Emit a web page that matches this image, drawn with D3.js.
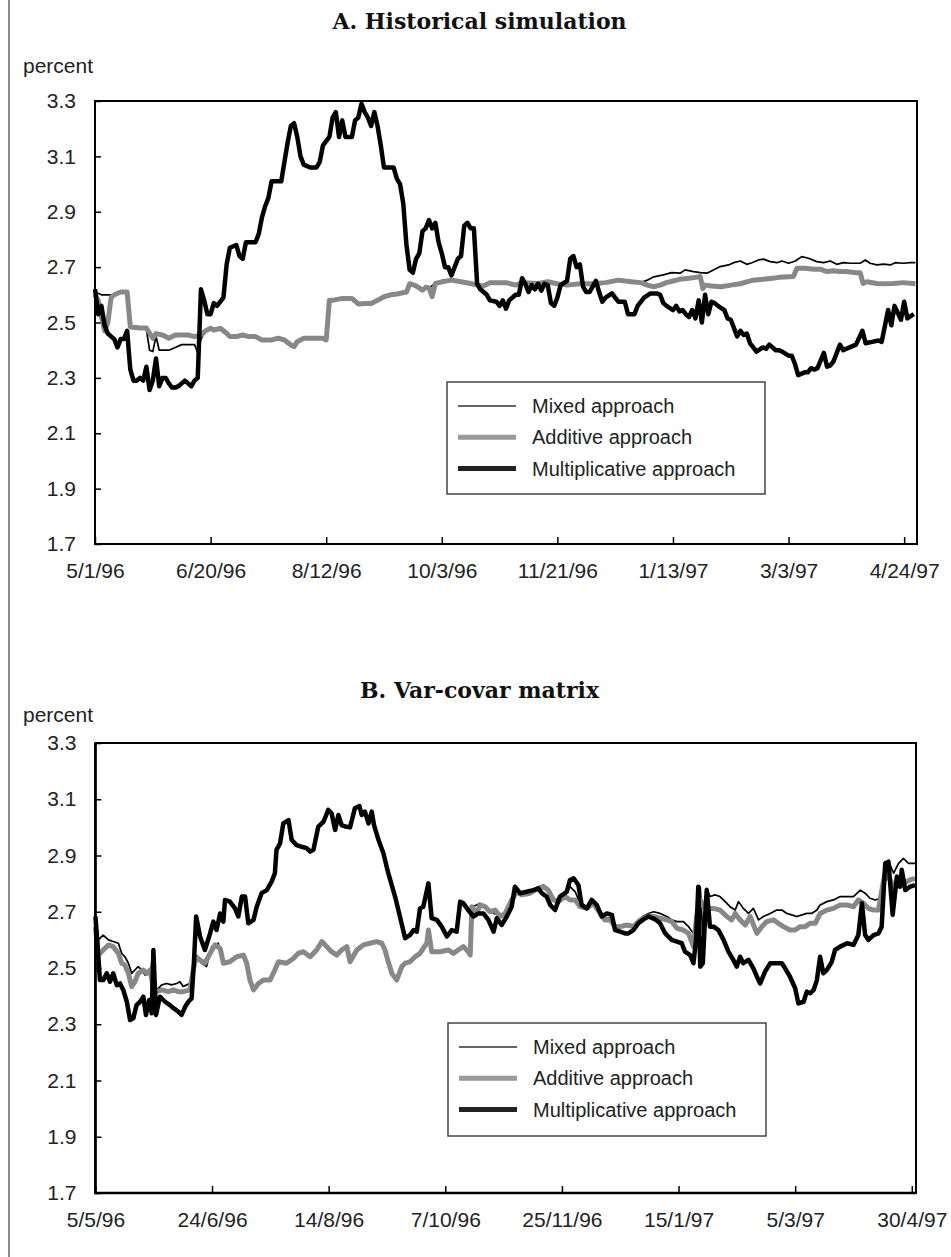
<!DOCTYPE html>
<html>
<head>
<meta charset="utf-8">
<script src="https://cdn.jsdelivr.net/npm/d3@7"></script>
<style>
  body { margin: 0; background: #fff; }
  svg { display: block; }
</style>
</head>
<body>
<script>
// values: [trading day, percent]
const yTicks = [1.7, 1.9, 2.1, 2.3, 2.5, 2.7, 2.9, 3.1, 3.3];
const tickDays = [0, 36, 72, 108, 144, 180, 216, 252];
const labelsA = ["5/1/96", "6/20/96", "8/12/96", "10/3/96", "11/21/96", "1/13/97", "3/3/97", "4/24/97"];
const labelsB = ["5/5/96", "24/6/96", "14/8/96", "7/10/96", "25/11/96", "15/1/97", "5/3/97", "30/4/97"];
const seriesNames = ["Mixed approach", "Additive approach", "Multiplicative approach"];

const multA = [[0,2.62],[1,2.53],[2,2.56],[3,2.49],[4,2.46],[5,2.45],[6,2.44],[7,2.41],[8,2.44],[9,2.44],[10,2.47],[11,2.33],[12,2.29],[13,2.29],[14,2.30],[15,2.29],[16,2.34],[17,2.256],[18,2.29],[19,2.37],[20,2.27],[21,2.30],[22,2.30],[23,2.28],[24,2.265],[25,2.265],[26,2.27],[27,2.28],[28,2.29],[29,2.28],[30,2.27],[31,2.29],[32,2.30],[33,2.62],[34,2.58],[35,2.53],[36,2.53],[37,2.57],[38,2.56],[40,2.59],[41,2.71],[42,2.77],[44,2.78],[45,2.74],[46,2.73],[47,2.79],[48,2.79],[50,2.79],[51,2.82],[52,2.88],[53,2.92],[54,2.95],[55,3.01],[58,3.01],[59,3.08],[60,3.15],[61,3.21],[62,3.22],[63,3.17],[64,3.10],[65,3.07],[67,3.06],[69,3.06],[70,3.08],[71,3.14],[73,3.17],[74,3.24],[75,3.26],[76,3.17],[77,3.23],[78,3.17],[80,3.17],[81,3.23],[82,3.24],[83,3.29],[84,3.26],[85,3.24],[86,3.21],[87,3.26],[88,3.21],[89,3.14],[90,3.06],[93,3.06],[94,3.02],[95,3.00],[96,2.93],[97,2.78],[98,2.69],[99,2.68],[100,2.73],[101,2.75],[102,2.83],[103,2.84],[104,2.87],[105,2.84],[106,2.86],[107,2.79],[108,2.75],[109,2.70],[110,2.70],[111,2.67],[113,2.73],[114,2.74],[115,2.85],[116,2.86],[117,2.84],[118,2.84],[119,2.64],[120,2.62],[122,2.60],[123,2.58],[125,2.575],[126,2.56],[127,2.58],[128,2.55],[129,2.58],[131,2.60],[132,2.60],[133,2.66],[134,2.64],[135,2.61],[136,2.635],[137,2.62],[138,2.64],[139,2.615],[140,2.64],[141,2.635],[142,2.57],[143,2.56],[144,2.59],[145,2.635],[147,2.65],[148,2.73],[149,2.74],[150,2.70],[151,2.71],[152,2.63],[153,2.61],[154,2.61],[156,2.65],[157,2.61],[158,2.575],[159,2.59],[161,2.605],[162,2.59],[163,2.575],[165,2.575],[166,2.53],[168,2.53],[169,2.56],[171,2.59],[173,2.605],[175,2.605],[176,2.60],[177,2.57],[178,2.56],[180,2.545],[181,2.56],[182,2.54],[183,2.545],[184,2.53],[185,2.52],[186,2.545],[187,2.515],[188,2.58],[189,2.50],[190,2.60],[191,2.53],[192,2.575],[193,2.57],[194,2.56],[196,2.545],[197,2.515],[198,2.51],[200,2.45],[201,2.47],[202,2.455],[203,2.46],[204,2.425],[205,2.41],[206,2.395],[208,2.41],[209,2.405],[210,2.42],[212,2.40],[213,2.40],[214,2.395],[216,2.38],[217,2.38],[218,2.35],[219,2.31],[221,2.32],[222,2.32],[223,2.335],[224,2.33],[225,2.335],[227,2.39],[228,2.34],[229,2.345],[230,2.36],[232,2.42],[233,2.40],[235,2.41],[237,2.42],[239,2.47],[240,2.425],[242,2.43],[244,2.435],[245,2.43],[247,2.545],[248,2.49],[249,2.56],[251,2.51],[252,2.575],[253,2.515],[255,2.53]];

const addA = [[0,2.60],[1,2.58],[2,2.52],[3,2.47],[4,2.50],[5,2.59],[6,2.60],[8,2.61],[10,2.61],[11,2.485],[14,2.48],[16,2.48],[18,2.443],[19,2.46],[21,2.455],[23,2.443],[25,2.455],[29,2.455],[31,2.449],[33,2.455],[34,2.467],[36,2.479],[37,2.473],[39,2.479],[41,2.461],[42,2.449],[44,2.449],[46,2.455],[48,2.449],[50,2.449],[52,2.437],[55,2.437],[57,2.443],[59,2.437],[61,2.419],[62,2.413],[63,2.431],[65,2.443],[67,2.443],[71,2.443],[72,2.437],[73,2.58],[74,2.58],[77,2.587],[80,2.587],[82,2.567],[84,2.569],[86,2.569],[88,2.58],[90,2.593],[92,2.60],[94,2.603],[97,2.61],[98,2.64],[100,2.632],[102,2.617],[103,2.627],[104,2.625],[105,2.593],[106,2.641],[108,2.647],[111,2.653],[114,2.647],[117,2.641],[119,2.635],[121,2.632],[123,2.644],[125,2.644],[128,2.644],[131,2.635],[133,2.644],[138,2.641],[141,2.647],[144,2.64],[147,2.635],[151,2.64],[155,2.64],[159,2.644],[163,2.653],[167,2.647],[170,2.644],[172,2.635],[174,2.629],[176,2.635],[178,2.644],[180,2.65],[182,2.656],[185,2.66],[187,2.663],[188.5,2.666],[189.3,2.623],[190,2.635],[192,2.632],[195,2.629],[198,2.635],[201,2.64],[203,2.647],[205,2.653],[208,2.656],[211,2.66],[213,2.663],[217.5,2.666],[218.6,2.696],[221,2.696],[224,2.692],[226,2.692],[228,2.684],[230,2.687],[232,2.684],[234,2.684],[237,2.68],[238.3,2.68],[239.2,2.641],[240.4,2.647],[243.5,2.641],[245.6,2.64],[248.7,2.641],[251.8,2.644],[255.5,2.64]];

const mixA = [[0,2.61],[2,2.60],[4,2.60],[6,2.60],[8,2.61],[10,2.61],[11,2.48],[16,2.475],[17,2.40],[18,2.395],[19,2.45],[20,2.40],[23,2.40],[25,2.41],[27,2.42],[31,2.42],[32,2.39],[33,2.44],[34,2.46],[36,2.479],[37,2.473],[39,2.479],[41,2.461],[42,2.449],[44,2.449],[46,2.455],[48,2.449],[50,2.449],[52,2.437],[55,2.437],[57,2.443],[59,2.437],[61,2.419],[62,2.413],[63,2.431],[65,2.443],[67,2.443],[71,2.443],[72,2.437],[73,2.58],[74,2.58],[77,2.587],[80,2.587],[82,2.567],[84,2.569],[86,2.569],[88,2.58],[90,2.593],[92,2.60],[94,2.603],[97,2.61],[98,2.64],[100,2.632],[102,2.617],[103,2.627],[104,2.625],[106,2.641],[108,2.647],[111,2.653],[114,2.647],[117,2.641],[119,2.635],[121,2.632],[123,2.644],[128,2.644],[131,2.635],[133,2.644],[138,2.641],[141,2.647],[144,2.64],[147,2.635],[151,2.64],[155,2.64],[159,2.644],[163,2.653],[167,2.647],[170,2.644],[172,2.653],[174,2.665],[177,2.672],[179.6,2.68],[182.2,2.678],[183.8,2.69],[186.4,2.684],[188.5,2.68],[190.6,2.678],[192.6,2.69],[194.7,2.702],[197.3,2.708],[198.9,2.716],[201,2.722],[203,2.71],[204.6,2.716],[206.7,2.726],[208.2,2.729],[210.3,2.72],[212.4,2.716],[213.9,2.722],[216,2.714],[218.1,2.722],[220.1,2.738],[222.2,2.732],[224.8,2.72],[226.9,2.716],[229,2.722],[231,2.71],[233.1,2.716],[235.2,2.714],[238.3,2.714],[239.9,2.726],[241.4,2.714],[243.5,2.708],[245.6,2.711],[247.7,2.708],[249.2,2.716],[251.8,2.714],[253.9,2.716],[255.5,2.716]];

const multB = [[0,2.683],[0.4,2.624],[1.4,2.457],[2.4,2.457],[3.5,2.481],[4.5,2.451],[5.5,2.481],[6.6,2.439],[7.6,2.445],[8.6,2.422],[9.7,2.38],[10.7,2.315],[11.7,2.321],[12.7,2.368],[13.8,2.38],[14.8,2.398],[15.6,2.333],[16.6,2.386],[17.4,2.339],[17.9,2.564],[18.7,2.333],[19.9,2.398],[21.5,2.38],[23,2.368],[24.1,2.357],[25.6,2.345],[26.6,2.333],[27.7,2.362],[28.7,2.38],[29.7,2.392],[30.4,2.517],[31.1,2.683],[32.3,2.612],[33.8,2.564],[35.4,2.623],[36.4,2.665],[37.4,2.635],[38.5,2.694],[39.5,2.665],[40,2.742],[41.5,2.736],[43.1,2.712],[44.1,2.683],[45.2,2.754],[46.2,2.754],[47.2,2.659],[48.8,2.671],[49.8,2.718],[51.3,2.766],[52.9,2.777],[54.4,2.807],[55.4,2.837],[55.9,2.92],[57,2.943],[58,3.014],[59.6,3.026],[60.6,2.955],[62.1,2.937],[63.7,2.931],[65.2,2.926],[66.3,2.914],[67.3,2.92],[68.8,3.003],[70.4,3.02],[71.9,3.062],[72.9,3.05],[74,2.991],[75,3.044],[76,3.008],[77.1,3.003],[78.6,3.0],[80.1,3.068],[81.5,3.076],[82.2,3.044],[83.2,3.056],[84.3,3.014],[85.3,3.056],[86,3.008],[87.4,2.955],[88.9,2.908],[90.4,2.837],[92.5,2.754],[94,2.683],[95.6,2.606],[97.1,2.617],[98.2,2.635],[99.2,2.629],[100.2,2.712],[101.2,2.718],[102.8,2.801],[103.8,2.677],[105.4,2.671],[106.9,2.647],[108.5,2.612],[110,2.635],[111.5,2.629],[112.6,2.736],[113.6,2.73],[115.1,2.706],[116.7,2.683],[118.2,2.694],[119.8,2.694],[121.3,2.671],[122.9,2.629],[123.9,2.677],[125.4,2.653],[127,2.683],[128.5,2.718],[129.5,2.789],[131.1,2.766],[133.1,2.771],[135.2,2.777],[136.7,2.783],[137.8,2.766],[139.3,2.754],[140.4,2.724],[141.9,2.706],[143.4,2.754],[145.5,2.771],[146.5,2.813],[147.6,2.819],[149.1,2.795],[150.1,2.724],[151.7,2.712],[153.2,2.742],[154.8,2.724],[156.3,2.683],[157.9,2.694],[159.4,2.689],[160.4,2.635],[162,2.629],[163.5,2.623],[164.5,2.623],[166.1,2.635],[167.6,2.659],[169.2,2.673],[170.7,2.683],[172.8,2.673],[174.3,2.659],[175.9,2.623],[177.9,2.6],[179.5,2.594],[181,2.588],[182,2.558],[183.6,2.546],[184.6,2.517],[185.4,2.6],[186.1,2.789],[186.7,2.505],[187.5,2.517],[188.2,2.683],[188.7,2.777],[189.7,2.647],[190.8,2.647],[192.3,2.635],[193.9,2.6],[195.4,2.558],[196.9,2.529],[198,2.505],[199,2.54],[200,2.517],[201.6,2.529],[203.1,2.499],[204.2,2.469],[205.2,2.445],[206.7,2.487],[208.3,2.517],[210.3,2.517],[211.9,2.517],[212.9,2.499],[214.4,2.469],[216,2.428],[217,2.374],[218.6,2.38],[219.6,2.416],[220.6,2.41],[221.7,2.422],[222.7,2.457],[223.7,2.54],[224.7,2.481],[225.8,2.493],[227.3,2.522],[228.3,2.564],[229.9,2.576],[232,2.588],[234,2.582],[235.5,2.617],[236.6,2.73],[237.6,2.617],[238.6,2.6],[240.2,2.617],[241.7,2.623],[242.7,2.647],[243.8,2.872],[244.8,2.878],[246.1,2.689],[247.4,2.825],[248.4,2.789],[248.9,2.849],[250,2.777],[251.5,2.789],[253,2.795]];

const addB = [[0,2.647],[0.9,2.546],[2.4,2.564],[4,2.582],[5.5,2.576],[7.1,2.552],[8.1,2.517],[9.1,2.511],[10.2,2.481],[11.2,2.434],[12.2,2.451],[13.2,2.481],[14.8,2.493],[15.8,2.481],[16.9,2.493],[17.9,2.422],[18.9,2.416],[20.5,2.422],[22.5,2.416],[24.1,2.422],[25.6,2.416],[27.1,2.416],[29.2,2.422],[30.2,2.493],[31.1,2.54],[32.3,2.528],[33.8,2.517],[35.4,2.552],[36.9,2.582],[38.5,2.57],[39.5,2.517],[41.5,2.522],[43.6,2.54],[45.7,2.546],[46.7,2.517],[47.7,2.457],[48.8,2.422],[50.3,2.445],[51.8,2.457],[53.9,2.457],[55.4,2.493],[56.5,2.522],[59,2.517],[61.1,2.534],[62.6,2.552],[64.2,2.558],[66.3,2.54],[68.3,2.564],[69.9,2.594],[71.4,2.576],[72.9,2.558],[74.5,2.546],[76,2.564],[77.6,2.576],[78.6,2.522],[80.7,2.564],[82.7,2.582],[84.8,2.588],[86.8,2.594],[88.4,2.588],[89.4,2.564],[90.4,2.522],[91.5,2.481],[93,2.457],[94.6,2.505],[95.6,2.517],[97.1,2.522],[98.7,2.54],[100.2,2.552],[101.2,2.57],[102.3,2.588],[102.8,2.635],[103.8,2.558],[106.4,2.558],[109,2.564],[110.5,2.552],[112,2.564],[113.6,2.576],[115.1,2.558],[115.7,2.546],[116.2,2.718],[117.7,2.694],[118.7,2.724],[120.3,2.718],[121.8,2.7],[123.4,2.706],[124.9,2.683],[126.5,2.694],[128.5,2.742],[130.1,2.771],[131.6,2.76],[134.2,2.766],[136.8,2.783],[138.3,2.789],[139.8,2.777],[141.4,2.742],[142.9,2.736],[145,2.754],[146.5,2.742],[148.1,2.742],[149.6,2.718],[151.7,2.712],[153.7,2.73],[155.8,2.694],[157.3,2.671],[158.9,2.671],[160.4,2.647],[162,2.647],[164,2.653],[166.1,2.647],[167.6,2.665],[169.2,2.677],[170.7,2.685],[172.3,2.683],[174.3,2.677],[176.4,2.671],[177.9,2.665],[179.5,2.641],[181.5,2.635],[183.1,2.623],[184.6,2.576],[185.6,2.683],[186.7,2.742],[187.7,2.718],[189.2,2.712],[190.8,2.712],[192.8,2.706],[194.9,2.683],[196.4,2.671],[197.5,2.694],[199,2.671],[200.6,2.653],[202.1,2.683],[204.2,2.623],[205.7,2.647],[207.2,2.665],[209.3,2.671],[210.8,2.659],[212.4,2.647],[214.4,2.635],[216,2.635],[217.5,2.647],[219.1,2.647],[220.6,2.659],[222.2,2.659],[223.7,2.694],[225.8,2.706],[227.8,2.712],[229.9,2.724],[232,2.724],[234,2.718],[235.5,2.742],[237.1,2.73],[238.6,2.712],[240.2,2.706],[241.7,2.706],[243.3,2.813],[244.8,2.825],[246.4,2.789],[247.9,2.807],[249.4,2.801],[251.5,2.813],[253,2.819]];

const mixB = [[0,2.66],[0.9,2.60],[2.4,2.617],[4,2.60],[5.5,2.594],[7.1,2.588],[8.1,2.552],[9.1,2.54],[10.2,2.517],[11.2,2.481],[12.2,2.493],[13.2,2.505],[14.3,2.493],[15.3,2.475],[16.3,2.487],[17.1,2.481],[17.7,2.558],[18.4,2.416],[20.5,2.44],[22,2.445],[23.5,2.44],[25.1,2.445],[26.1,2.451],[27.1,2.434],[28.2,2.44],[29.2,2.445],[29.8,2.457],[30.4,2.552],[31.1,2.54],[32.8,2.517],[34.3,2.505],[35.9,2.576],[36.9,2.582],[37.9,2.588],[39.5,2.517],[41.5,2.522],[43.6,2.54],[45.7,2.546],[46.7,2.517],[47.7,2.457],[48.8,2.422],[50.3,2.445],[51.8,2.457],[53.9,2.457],[55.4,2.493],[56.5,2.522],[59,2.517],[61.1,2.534],[62.6,2.552],[64.2,2.558],[66.3,2.54],[68.3,2.564],[69.9,2.594],[71.4,2.576],[72.9,2.558],[74.5,2.546],[76,2.564],[77.6,2.576],[78.6,2.522],[80.7,2.564],[82.7,2.582],[84.8,2.588],[86.8,2.594],[88.4,2.588],[89.4,2.564],[90.4,2.522],[91.5,2.481],[93,2.457],[94.6,2.505],[95.6,2.517],[97.1,2.522],[98.7,2.54],[100.2,2.552],[101.2,2.57],[102.3,2.588],[102.8,2.635],[103.8,2.558],[106.4,2.558],[109,2.564],[110.5,2.552],[112,2.564],[113.6,2.576],[115.1,2.558],[115.7,2.546],[116.2,2.718],[117.7,2.724],[118.7,2.73],[120.8,2.712],[122.9,2.694],[124.9,2.689],[127,2.694],[128.5,2.736],[130.1,2.771],[131.6,2.766],[134.2,2.771],[136.8,2.789],[138.3,2.795],[139.8,2.783],[141.4,2.748],[142.9,2.742],[145,2.76],[146.5,2.789],[148.1,2.771],[149.6,2.73],[151.7,2.718],[153.7,2.736],[155.8,2.706],[157.3,2.677],[158.9,2.677],[160.4,2.653],[162,2.65],[164,2.657],[166.1,2.653],[167.6,2.671],[169.2,2.685],[170.7,2.694],[172.3,2.7],[174.3,2.694],[176.4,2.683],[177.9,2.671],[179.5,2.665],[181.5,2.665],[183.1,2.647],[184.6,2.623],[185.6,2.694],[186.7,2.789],[187.5,2.623],[188.7,2.783],[189.7,2.754],[191.3,2.76],[192.8,2.754],[194.4,2.736],[195.9,2.718],[197.5,2.706],[198.5,2.736],[200,2.712],[201.6,2.694],[203.1,2.712],[204.7,2.671],[206.2,2.683],[208.3,2.694],[210.3,2.706],[211.9,2.706],[213.4,2.694],[214.9,2.689],[216.5,2.683],[218.1,2.689],[219.6,2.694],[221.1,2.694],[222.7,2.706],[223.7,2.724],[225.8,2.736],[227.8,2.742],[229.9,2.754],[232,2.754],[234,2.754],[236.1,2.777],[237.6,2.766],[239.1,2.748],[240.7,2.742],[242.2,2.748],[243.8,2.878],[245.1,2.872],[246.4,2.837],[247.9,2.872],[249.4,2.89],[251,2.872],[252.5,2.872],[253,2.872]];

const width = 951, height = 1257;
const sans = "'Liberation Sans', Arial, sans-serif";
const serif = "'DejaVu Serif', serif";

const svg = d3.select("body").append("svg")
  .attr("width", width)
  .attr("height", height);

svg.append("rect").attr("width", width).attr("height", height).attr("fill", "#fff");

// page border on the left
svg.append("line")
  .attr("x1", 9).attr("x2", 9).attr("y1", 0).attr("y2", height)
  .attr("stroke", "#666").attr("stroke-width", 1.5);

const panels = [
  {title: "A. Historical simulation", titleY: 29, percentY: 73,
   left: 95, right: 917, top: 101, bottom: 544, lastDay: 256, axisW: 2,
   labels: labelsA, series: [mixA, addA, multA],
   legend: {x: 447, y: 382, w: 318, h: 112}},
  {title: "B. Var-covar matrix", titleY: 698, percentY: 722,
   left: 95.4, right: 916, top: 743, bottom: 1193, lastDay: 253.3, axisW: 2.7,
   labels: labelsB, series: [mixB, addB, multB],
   legend: {x: 448, y: 1023, w: 318, h: 113}}
];

const styles = [
  {stroke: "#000", width: 1.7},
  {stroke: "#888", width: 5},
  {stroke: "#000", width: 4.5}
];
const legendStyles = [
  {stroke: "#333", width: 1.5},
  {stroke: "#9a9a9a", width: 5},
  {stroke: "#222", width: 5}
];

panels.forEach(drawPanel);

function drawPanel(p) {
  const g = svg.append("g");

  const x = d3.scaleLinear().domain([0, p.lastDay]).range([p.left, p.right]);
  const y = d3.scaleLinear().domain([1.7, 3.3]).range([p.bottom, p.top]);

  g.append("text")
    .attr("x", 479.5).attr("y", p.titleY)
    .attr("text-anchor", "middle")
    .attr("font-family", serif).attr("font-weight", "bold")
    .attr("font-size", 22).attr("fill", "#111")
    .text(p.title);

  g.append("text")
    .attr("x", 23).attr("y", p.percentY)
    .attr("font-family", sans).attr("font-size", 21).attr("fill", "#222")
    .text("percent");

  const yAxis = g.append("g")
    .attr("transform", `translate(${p.left},0)`)
    .call(d3.axisLeft(y).tickValues(yTicks).tickFormat(d3.format(".1f"))
      .tickSize(-6).tickPadding(19));

  const xAxis = g.append("g")
    .attr("transform", `translate(0,${p.bottom})`)
    .call(d3.axisBottom(x).tickValues(tickDays).tickFormat((d, i) => p.labels[i])
      .tickSize(-7).tickPadding(19));

  [yAxis, xAxis].forEach(ax => {
    ax.select(".domain").remove();
    ax.selectAll(".tick line").attr("stroke", "#000").attr("stroke-width", 1.5);
    ax.selectAll(".tick text")
      .attr("font-family", sans).attr("font-size", 21).attr("fill", "#222");
  });

  const line = d3.line().x(d => x(d[0])).y(d => y(d[1]));

  p.series.forEach((s, i) => {
    g.append("path")
      .datum(s)
      .attr("fill", "none")
      .attr("stroke", styles[i].stroke)
      .attr("stroke-width", styles[i].width)
      .attr("stroke-linejoin", "round")
      .attr("d", line);
  });

  // plot frame
  g.append("rect")
    .attr("x", p.left).attr("y", p.top)
    .attr("width", p.right - p.left).attr("height", p.bottom - p.top)
    .attr("fill", "none").attr("stroke", "#000").attr("stroke-width", 2);
  g.append("path")
    .attr("d", `M${p.left},${p.top}V${p.bottom}H${p.right}`)
    .attr("fill", "none").attr("stroke", "#000").attr("stroke-width", p.axisW);

  // legend
  const L = p.legend;
  const lg = g.append("g").attr("transform", `translate(${L.x},${L.y})`);
  lg.append("rect")
    .attr("width", L.w).attr("height", L.h)
    .attr("fill", "#fff").attr("stroke", "#444").attr("stroke-width", 1.5);
  seriesNames.forEach((name, i) => {
    const ry = 24 + i * 31.3;
    lg.append("line")
      .attr("x1", 11).attr("x2", 69).attr("y1", ry).attr("y2", ry)
      .attr("stroke", legendStyles[i].stroke).attr("stroke-width", legendStyles[i].width);
    lg.append("text")
      .attr("x", 85).attr("y", ry + 7)
      .attr("font-family", sans).attr("font-size", 20).attr("fill", "#222")
      .text(name);
  });
}
</script>
</body>
</html>
